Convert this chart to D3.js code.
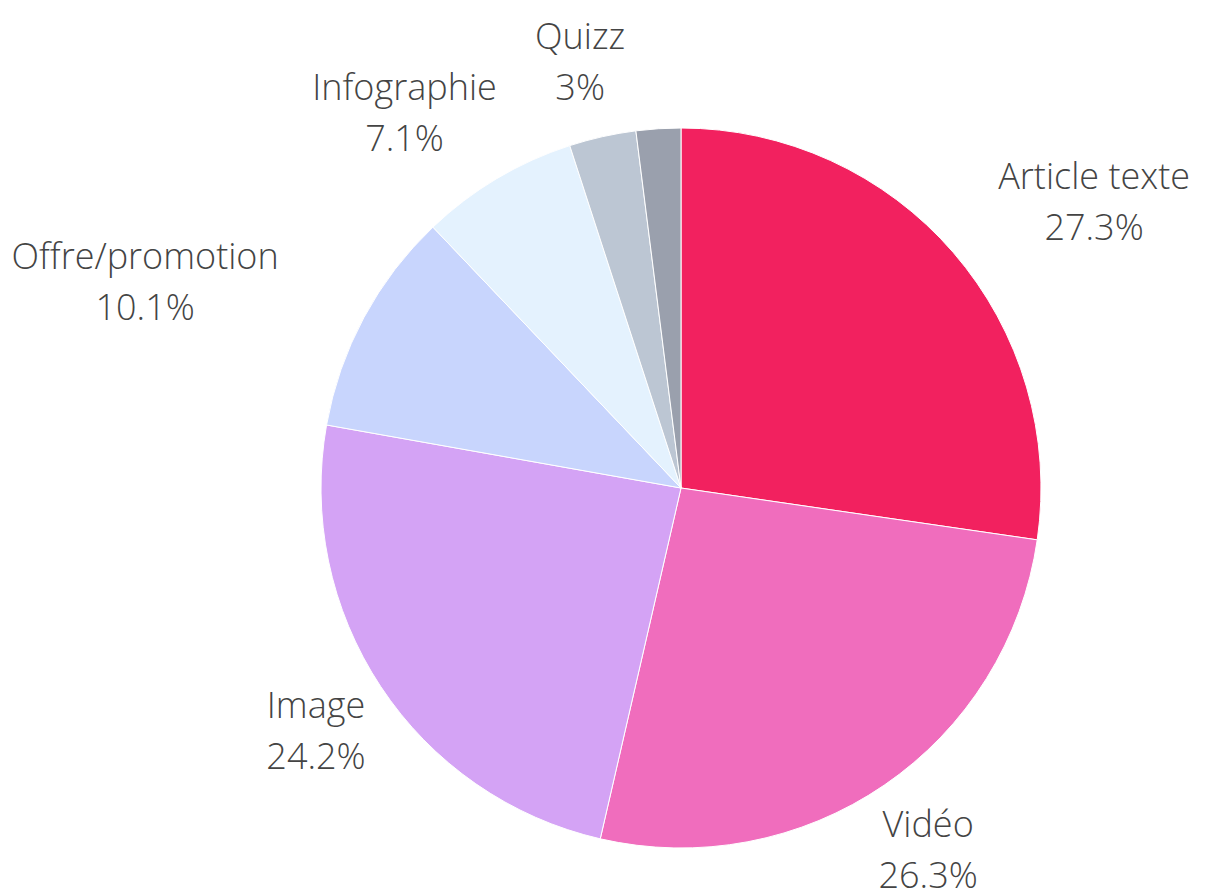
<!DOCTYPE html>
<html>
<head>
<meta charset="utf-8">
<script src="https://cdn.jsdelivr.net/npm/d3@7"></script>
<style>
  body { margin: 0; background: #fff; }
  text { font-family: "Open Sans", sans-serif; font-weight: 300; fill: #444; }
</style>
</head>
<body>
<script>
var width = 1217,
	height = 893;

// data
var categories = ["Article texte", "Vidéo", "Image", "Offre/promotion", "Infographie", "Quizz", "Autre"];
var values = [27.3, 26.3, 24.2, 10.1, 7.1, 3, 2];
var colors = ["#f2215f", "#f06dbd", "#d4a3f5", "#c8d5fd", "#e4f2fe", "#bcc6d3", "#9aa0ad"];

var cx = 681, cy = 488, radius = 360;
var fontSize = 36, lineGap = 51;

var svg = d3.select("body")
	.append("svg")
	.attr("width", width)
	.attr("height", height);

var pie = d3.pie()
	.sort(null)
	.value(function(d) { return d; });

var arc = d3.arc()
	.innerRadius(0)
	.outerRadius(radius);

var arcs = pie(values);

var main = svg.append("g")
	.attr("transform", "translate(" + cx + "," + cy + ")");

main.selectAll(".slice")
	.data(arcs)
	.enter().append("path")
	.attr("class", "slice")
	.attr("d", arc)
	.attr("fill", function(d, i) { return colors[i]; })
	.attr("stroke", "#fff")
	.attr("stroke-width", 1);

// outside labels: two lines (name, percent), small slices left unlabelled
var labels = main.selectAll(".label")
	.data(arcs.filter(function(d) { return d.data >= 2.5; }))
	.enter().append("text")
	.attr("class", "label")
	.attr("text-anchor", "middle")
	.style("font-size", fontSize + "px");

labels.append("tspan")
	.attr("x", 0)
	.attr("y", 0)
	.text(function(d) { return categories[d.index]; });

labels.append("tspan")
	.attr("x", 0)
	.attr("y", lineGap)
	.text(function(d) { return values[d.index] + "%"; });

labels.attr("transform", function(d) {
	var bb = this.getBBox();
	var a = (d.startAngle + d.endAngle) / 2;
	var s = Math.sin(a), c = -Math.cos(a);
	var r0 = radius + 28;
	// upper labels sit further out sideways
	var k = c < 0 ? 1.65 : 1.0;
	var px = r0 * s + k * (bb.width / 2) * s;
	var py = r0 * c + (bb.height / 2) * c;
	return "translate(" + (px - (bb.x + bb.width / 2)) + "," + (py - (bb.y + bb.height / 2)) + ")";
});
</script>
</body>
</html>
